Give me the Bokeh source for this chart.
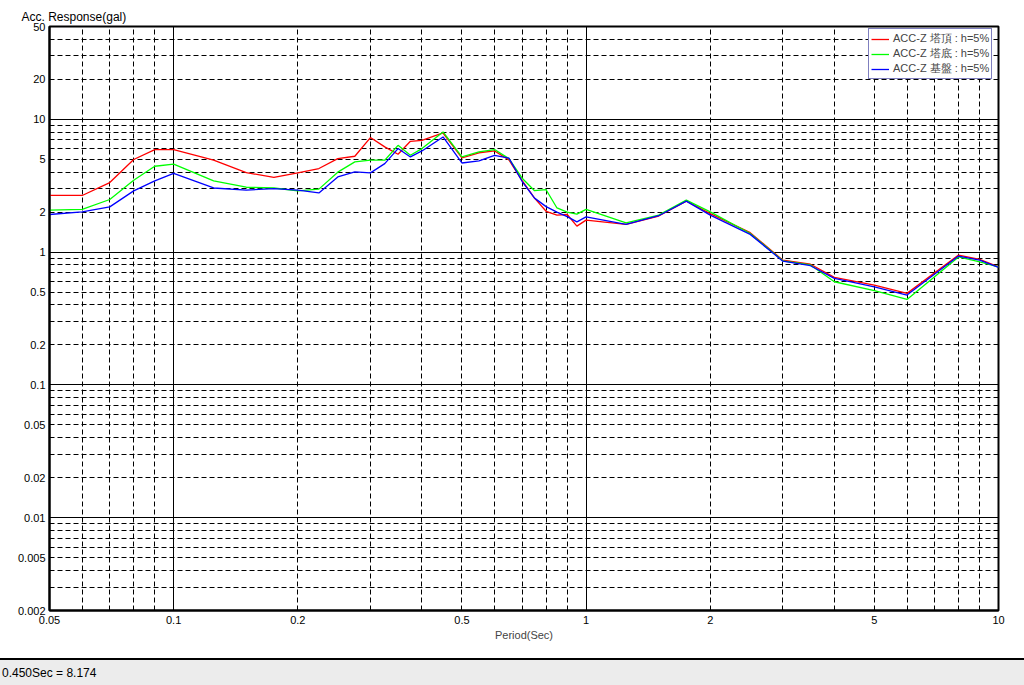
from bokeh.plotting import figure
from bokeh.models import FixedTicker, Legend, LegendItem, Div
from bokeh.layouts import column
from bokeh.embed import file_html
from bokeh.resources import INLINE

# ---------------- data ----------------
periods = [0.05, 0.06, 0.07, 0.08, 0.09, 0.10, 0.125, 0.15, 0.175, 0.20,
           0.225, 0.25, 0.275, 0.30, 0.325, 0.35, 0.375, 0.40, 0.45, 0.50,
           0.55, 0.60, 0.65, 0.70, 0.75, 0.80, 0.85, 0.90, 0.95, 1.0,
           1.25, 1.5, 1.75, 2.0, 2.5, 3.0, 3.5, 4.0, 5.0, 6.0,
           8.0, 9.0, 10.0]

acc_top = [2.67, 2.67, 3.34, 4.98, 5.92, 5.92, 4.92, 3.97, 3.65, 3.95,
           4.26, 5.06, 5.27, 7.29, 6.20, 5.46, 6.83, 6.95, 7.89, 5.12,
           5.60, 5.78, 4.95, 3.45, 2.55, 2.03, 1.90, 1.92, 1.57, 1.74,
           1.62, 1.87, 2.42, 1.95, 1.40, 0.87, 0.81, 0.645, 0.565, 0.489,
           0.95, 0.88, 0.775]

acc_bottom = [2.07, 2.10, 2.49, 3.48, 4.43, 4.59, 3.44, 3.08, 3.04, 2.89,
              2.98, 4.00, 4.78, 4.92, 4.92, 6.37, 5.36, 6.02, 8.03, 5.21,
              5.68, 5.92, 5.06, 3.60, 2.90, 2.95, 2.15, 2.00, 1.93, 2.10,
              1.66, 1.90, 2.46, 2.01, 1.38, 0.86, 0.80, 0.598, 0.512, 0.44,
              0.92, 0.845, 0.775]

acc_base = [1.92, 2.01, 2.19, 2.89, 3.44, 3.91, 3.04, 2.93, 3.01, 2.93,
            2.79, 3.68, 4.02, 3.95, 4.64, 6.02, 5.21, 5.78, 7.36, 4.69,
            4.86, 5.36, 5.10, 3.40, 2.55, 2.20, 2.00, 1.85, 1.69, 1.84,
            1.62, 1.88, 2.42, 1.90, 1.36, 0.855, 0.79, 0.634, 0.548, 0.475,
            0.933, 0.87, 0.767]

series_names = ["ACC-Z 塔頂 : h=5%", "ACC-Z 塔底 : h=5%", "ACC-Z 基盤 : h=5%"]
series_colors = ["#ff0000", "#00ff00", "#0000ff"]

x_ticks = [0.05, 0.1, 0.2, 0.5, 1, 2, 5, 10]
x_tick_labels = ["0.05", "0.1", "0.2", "0.5", "1", "2", "5", "10"]
y_ticks = [0.002, 0.005, 0.01, 0.02, 0.05, 0.1, 0.2, 0.5, 1, 2, 5, 10, 20, 50]
y_tick_labels = ["0.002", "0.005", "0.01", "0.02", "0.05", "0.1", "0.2",
                 "0.5", "1", "2", "5", "10", "20", "50"]

x_major_grid = [0.1, 1]
x_minor_grid = [0.06, 0.07, 0.08, 0.09, 0.2, 0.3, 0.4, 0.5, 0.6, 0.7, 0.8, 0.9,
                2, 3, 4, 5, 6, 7, 8, 9]
y_major_grid = [0.01, 0.1, 1, 10]
y_minor_grid = [0.003, 0.004, 0.005, 0.006, 0.007, 0.008, 0.009,
                0.02, 0.03, 0.04, 0.05, 0.06, 0.07, 0.08, 0.09,
                0.2, 0.3, 0.4, 0.5, 0.6, 0.7, 0.8, 0.9,
                2, 3, 4, 5, 6, 7, 8, 9, 20, 30, 40]

y_title = "Acc. Response(gal)"
x_title = "Period(Sec)"
status_text = "0.450Sec = 8.174"

FONT = "Liberation Sans"

# ---------------- figure ----------------
p = figure(width=1024, height=658, x_axis_type="log", y_axis_type="log",
           x_range=(0.05, 10), y_range=(0.002, 50),
           output_backend="svg", toolbar_location=None,
           min_border_left=49, min_border_right=26,
           min_border_top=26, min_border_bottom=48)
p.background_fill_color = "white"
p.border_fill_color = "white"
p.outline_line_color = "black"
p.outline_line_width = 2

p.title.text = y_title
p.title.align = "left"
p.title.offset = -28
p.title.standoff = 5
p.title.text_font = FONT
p.title.text_font_size = "12px"
p.title.text_font_style = "normal"
p.title.text_color = "black"

for g, maj, mnr in ((p.xgrid, x_major_grid, x_minor_grid),
                    (p.ygrid, y_major_grid, y_minor_grid)):
    g.ticker = FixedTicker(ticks=maj, minor_ticks=mnr)
    g.grid_line_color = "black"
    g.grid_line_width = 1
    g.grid_line_alpha = 1
    g.minor_grid_line_color = "black"
    g.minor_grid_line_width = 1
    g.minor_grid_line_dash = "5 3"

for ax, ticks, labels in ((p.xaxis[0], x_ticks, x_tick_labels),
                          (p.yaxis[0], y_ticks, y_tick_labels)):
    ax.ticker = FixedTicker(ticks=ticks)
    ax.major_label_overrides = {t: l for t, l in zip(ticks, labels)}
    ax.major_tick_out = 0
    ax.major_tick_in = 0
    ax.minor_tick_out = 0
    ax.minor_tick_in = 0
    ax.axis_line_width = 2
    ax.axis_line_color = "black"
    ax.major_label_text_font = FONT
    ax.major_label_text_font_size = "11px"
    ax.major_label_text_color = "black"

p.yaxis.major_label_standoff = 4
p.xaxis.major_label_standoff = 5
p.xaxis.axis_label = x_title
p.xaxis.axis_label_text_font = FONT
p.xaxis.axis_label_text_font_size = "11px"
p.xaxis.axis_label_text_font_style = "normal"
p.xaxis.axis_label_standoff = 2

renderers = []
for ys, col in zip((acc_top, acc_bottom, acc_base), series_colors):
    r = p.line(periods, ys, line_color=col, line_width=1.3)
    renderers.append(r)

legend = Legend(items=[LegendItem(label=n, renderers=[r]) for n, r in zip(series_names, renderers)],
                location=(819, 531))
legend.border_line_color = "#000080"
legend.border_line_width = 1.5
legend.background_fill_color = "white"
legend.background_fill_alpha = 1
legend.label_text_font = FONT
legend.label_text_font_size = "11px"
legend.label_height = 12
legend.glyph_height = 12
legend.glyph_width = 18
legend.spacing = 0
legend.padding = 2
legend.margin = 0
legend.label_standoff = 4
p.add_layout(legend)

status = Div(text=status_text, width=1024, height=27, margin=0,
             styles={"background-color": "#ececec", "border-top": "2px solid black",
                     "font-family": FONT, "font-size": "12px", "color": "black",
                     "padding-top": "5px", "padding-left": "2px",
                     "box-sizing": "border-box"})

layout = column(p, status, spacing=0)
open("out.html", "w").write(file_html(layout, INLINE))
